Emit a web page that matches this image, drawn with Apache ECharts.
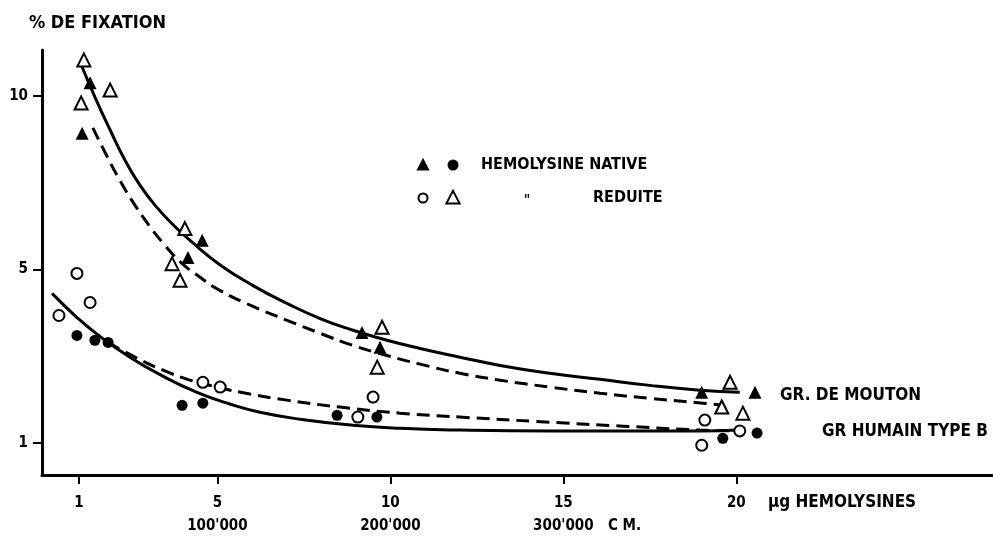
<!DOCTYPE html>
<html><head><meta charset="utf-8">
<script src="https://cdn.jsdelivr.net/npm/echarts@6/dist/echarts.min.js"></script>
<style>html,body{margin:0;padding:0;background:#fff}#c{width:993px;height:539px}</style>
</head><body><div id="c"></div>
<script>
// ---- data (x: µg hémolysines, y: % de fixation) ----
const xTicks = [1, 5, 10, 15, 20];
const cmTicks = [5, 10, 15];
const cmLabels = ["100'000", "200'000", "300'000"];
const yTickValues = [1, 5, 10];

// GR de mouton, hémolysine native (filled triangles)
const mNativeX = [1.09, 1.32, 4.56, 4.15, 9.18, 9.70, 19.0, 20.54];
const mNativeY = [8.93, 10.38, 5.84, 5.35, 3.55, 3.21, 2.17, 2.17];
// GR de mouton, hémolysine réduite (open triangles)
const mReduiteX = [1.14, 1.90, 1.06, 4.06, 3.69, 3.92, 9.76, 9.62, 19.82, 19.58, 20.19];
const mReduiteY = [11.04, 10.17, 9.80, 6.18, 5.17, 4.75, 3.67, 2.75, 2.40, 1.83, 1.69];
// GR humain type B, native (filled circles)
const hNativeX = [0.94, 1.46, 1.84, 3.98, 4.58, 8.46, 9.61, 19.61, 20.6];
const hNativeY = [3.48, 3.37, 3.32, 1.87, 1.92, 1.64, 1.60, 1.11, 1.23];
// GR humain type B, réduite (open circles)
const hReduiteX = [0.42, 0.94, 1.32, 4.58, 5.08, 9.50, 9.06, 19.09, 20.1, 19.0];
const hReduiteY = [3.94, 4.91, 4.24, 2.40, 2.29, 2.06, 1.60, 1.53, 1.28, 0.95];

// fitted curves
const mSolidX = [1.03, 1.46, 1.90, 2.33, 2.76, 3.25, 3.77, 4.21, 5.07, 6.03, 7.01, 7.97, 8.92, 9.90, 10.86, 12.01, 13.17, 14.61, 16.06, 17.50, 18.95, 20.10];
const mSolidY = [10.98, 9.97, 9.02, 8.15, 7.43, 6.79, 6.24, 5.84, 5.14, 4.63, 4.22, 3.87, 3.60, 3.37, 3.18, 2.98, 2.79, 2.61, 2.47, 2.33, 2.22, 2.17];
const mDashX = [1.40, 1.75, 2.18, 2.62, 3.05, 3.49, 3.92, 4.50, 5.07, 6.03, 7.01, 7.97, 8.92, 9.90, 10.86, 12.01, 13.17, 14.61, 16.06, 17.50, 19.03, 19.58];
const mDashY = [9.08, 8.38, 7.57, 6.85, 6.24, 5.69, 5.23, 4.82, 4.52, 4.15, 3.83, 3.53, 3.25, 3.02, 2.82, 2.61, 2.45, 2.29, 2.15, 2.03, 1.92, 1.87];
const hSolidX = [0.22, 0.88, 1.52, 2.47, 3.48, 4.41, 5.36, 6.23, 7.39, 8.92, 10.28, 12.01, 14.61, 16.55, 18.95, 20.05];
const hSolidY = [4.45, 3.94, 3.51, 2.98, 2.52, 2.17, 1.90, 1.71, 1.55, 1.41, 1.34, 1.30, 1.28, 1.28, 1.28, 1.30];
const hDashX = [1.84, 2.62, 3.43, 4.21, 4.99, 5.94, 7.01, 8.54, 10.28, 12.01, 14.61, 16.72, 18.95, 19.96];
const hDashY = [3.32, 2.98, 2.68, 2.45, 2.29, 2.13, 1.99, 1.83, 1.69, 1.60, 1.48, 1.39, 1.30, 1.28];

// the ordinate of the original is graduated 1 - 5 - 10 at equal spacing
function toAxis(v) { return v <= 5 ? (v - 1) / 4 : 1 + (v - 5) / 5; }
function fromAxis(u) { return u <= 1 ? 1 + 4 * u : 5 + 5 * (u - 1); }
function pts(xs, ys) { return xs.map((x, i) => [x, toAxis(ys[i])]); }

const FONT = "'Liberation Sans Narrow','DejaVu Sans Condensed',sans-serif";
const chart = echarts.init(document.getElementById('c'), null, {renderer: 'canvas'});

function lineSeries(xs, ys, dashed) {
  return {type: 'line', data: pts(xs, ys), smooth: 0.5, showSymbol: false, silent: true,
    lineStyle: {color: '#000', width: 3, opacity: 1, type: dashed ? [13, 7] : 'solid', cap: 'butt'}, z: 2};
}
function scatter(xs, ys, symbol, filled, size) {
  return {type: 'scatter', data: pts(xs, ys), symbol: symbol, symbolSize: size,
    itemStyle: {color: filled ? '#000' : '#fff', opacity: 1, borderColor: '#000', borderWidth: filled ? 0 : 2}, z: 5};
}

const triPts = (cx, cy, s) => [[cx, cy - s * 0.6], [cx - s * 0.55, cy + s * 0.45], [cx + s * 0.55, cy + s * 0.45]];
const textEl = (t, x, y, size, align) => ({type: 'text', x: x, y: y,
  style: {text: t, fill: '#000', font: 'bold ' + size + 'px ' + FONT, textAlign: align || 'left', textVerticalAlign: 'middle'}});

chart.setOption({
  animation: false,
  backgroundColor: '#fff',
  grid: {left: 42, right: 0, top: 50, bottom: 64, containLabel: false},
  xAxis: [{
    type: 'value', min: -0.07, max: 27.42, position: 'bottom',
    axisLine: {onZero: false, lineStyle: {color: '#000', width: 3}},
    axisTick: {show: true, customValues: xTicks, length: 9, lineStyle: {color: '#000', width: 2}},
    axisLabel: {customValues: xTicks, margin: 21, color: '#000', fontSize: 15, fontWeight: 'bold', fontFamily: FONT},
    splitLine: {show: false}
  }, {
    type: 'value', min: -0.07, max: 27.42, position: 'bottom', offset: 22,
    axisLine: {show: false}, axisTick: {show: false},
    axisLabel: {customValues: cmTicks, margin: 22, color: '#000', fontSize: 15, fontWeight: 'bold', fontFamily: FONT,
      formatter: v => cmLabels[cmTicks.indexOf(v)] || ''},
    splitLine: {show: false}
  }],
  yAxis: {
    type: 'value', min: -0.184, max: 2.265,
    axisLine: {show: true, onZero: false, lineStyle: {color: '#000', width: 3}},
    axisTick: {show: true, customValues: yTickValues.map(toAxis), length: 9, lineStyle: {color: '#000', width: 2}},
    axisLabel: {customValues: yTickValues.map(toAxis), margin: 14, color: '#000', fontSize: 15, fontWeight: 'bold', fontFamily: FONT,
      formatter: u => String(Math.round(fromAxis(u)))},
    splitLine: {show: false}
  },
  series: [
    lineSeries(mSolidX, mSolidY, false),
    lineSeries(mDashX, mDashY, true),
    lineSeries(hSolidX, hSolidY, false),
    lineSeries(hDashX, hDashY, true),
    scatter(mNativeX, mNativeY, 'triangle', true, 13),
    scatter(mReduiteX, mReduiteY, 'triangle', false, 13),
    scatter(hNativeX, hNativeY, 'circle', true, 11),
    scatter(hReduiteX, hReduiteY, 'circle', false, 11)
  ],
  graphic: [
    textEl('% DE FIXATION', 29, 23, 18),
    // legend
    {type: 'polygon', shape: {points: triPts(423, 165, 12)}, style: {fill: '#000'}},
    {type: 'circle', shape: {cx: 453, cy: 165, r: 5.5}, style: {fill: '#000'}},
    textEl('HEMOLYSINE NATIVE', 481, 165, 16),
    {type: 'circle', shape: {cx: 423, cy: 198, r: 4.5}, style: {fill: '#fff', stroke: '#000', lineWidth: 2}},
    {type: 'polygon', shape: {points: triPts(453, 198, 12)}, style: {fill: '#fff', stroke: '#000', lineWidth: 2}},
    textEl('"', 527, 200, 14, 'center'),
    textEl('REDUITE', 593, 198, 16),
    // curve labels
    textEl('GR. DE MOUTON', 780, 396, 17),
    textEl('GR HUMAIN TYPE B', 822, 432, 17),
    // axis annotations
    textEl('µg HEMOLYSINES', 768, 503, 17),
    textEl('C M.', 608, 526, 15)
  ]
});
</script></body></html>
